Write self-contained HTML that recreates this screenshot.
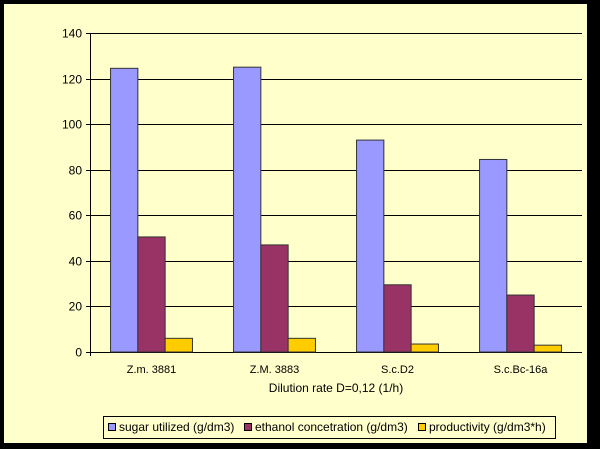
<!DOCTYPE html>
<html><head><meta charset="utf-8"><style>
body{margin:0;background:#000;}
svg{display:block;font-family:"Liberation Sans",Arial,sans-serif;}
</style></head><body>
<svg width="600" height="449">
<rect x="0" y="0" width="600" height="449" fill="#000"/>
<rect x="4" y="4" width="583" height="439" fill="#FFFFCC"/>
<g id="grid"></g>
<g id="bars"></g>
<g id="axes"></g>
<text x="336" y="392" font-size="12" text-anchor="middle" fill="#000">Dilution rate D=0,12 (1/h)</text>
<g>
<rect x="103.5" y="416.5" width="452" height="22" fill="#FFFFCC" stroke="#000"/>
<g><rect x="108.5" y="423.5" width="7" height="7" fill="#9999FF" stroke="#000"/><text x="119" y="431" font-size="12">sugar utilized (g/dm3)</text></g>
<g><rect x="244.5" y="423.5" width="7" height="7" fill="#993366" stroke="#000"/><text x="255" y="431" font-size="12">ethanol concetration (g/dm3)</text></g>
<g><rect x="418.5" y="423.5" width="7" height="7" fill="#FFCC00" stroke="#000"/><text x="429" y="431" font-size="12">productivity (g/dm3*h)</text></g>
</g>
</svg>
<script>
const categories=["Z.m. 3881","Z.M. 3883","S.c.D2","S.c.Bc-16a"];
const sugar=[124.5,125,93,84.5];
const ethanol=[50.5,47,29.5,25];
const productivity=[6,6,3.5,3];
const yTicks=[0,20,40,60,80,100,120,140];
const NS="http://www.w3.org/2000/svg";
const x0=90,x1=582,yTop=33,yBot=352,yMax=140;
const y=v=>yBot-(v/yMax)*(yBot-yTop);
const catW=(x1-x0)/categories.length;
function mk(t,a,p){const e=document.createElementNS(NS,t);for(const k in a)e.setAttribute(k,a[k]);p.appendChild(e);return e;}
const grid=document.getElementById('grid'),axes=document.getElementById('axes'),bars=document.getElementById('bars');
yTicks.forEach(t=>{
 const yy=Math.round(y(t))+0.5;
 const l=mk('line',{x1:x0-4,x2:x1,y1:yy,y2:yy,stroke:'#000'},grid);
 
 
 const tx=mk('text',{x:x0-8,y:yy+4,'font-size':12,'text-anchor':'end'},axes);
 tx.textContent=t;
 
 
});
const ax=mk('line',{x1:x0+0.5,x2:x0+0.5,y1:yTop,y2:yBot+4,stroke:'#000'},axes);


const series=[[sugar,'#9999FF','sugar'],[ethanol,'#993366','ethanol'],[productivity,'#FFCC00','productivity']];
const bw=27.3,off=(catW-bw*3)/2;
categories.forEach((c,i)=>{
 const cx=x0+catW*i;
 series.forEach((s,j)=>{
  const v=s[0][i];
  const r=mk('rect',{x:cx+off+bw*j,y:y(v),width:bw,height:yBot-y(v),fill:s[1],stroke:'#333','stroke-width':1},bars);
  
  
 });
 const t=mk('text',{x:cx+catW/2,y:373,'font-size':11,'text-anchor':'middle'},axes);
 t.textContent=c;
 
 
});
</script>
</body></html>
